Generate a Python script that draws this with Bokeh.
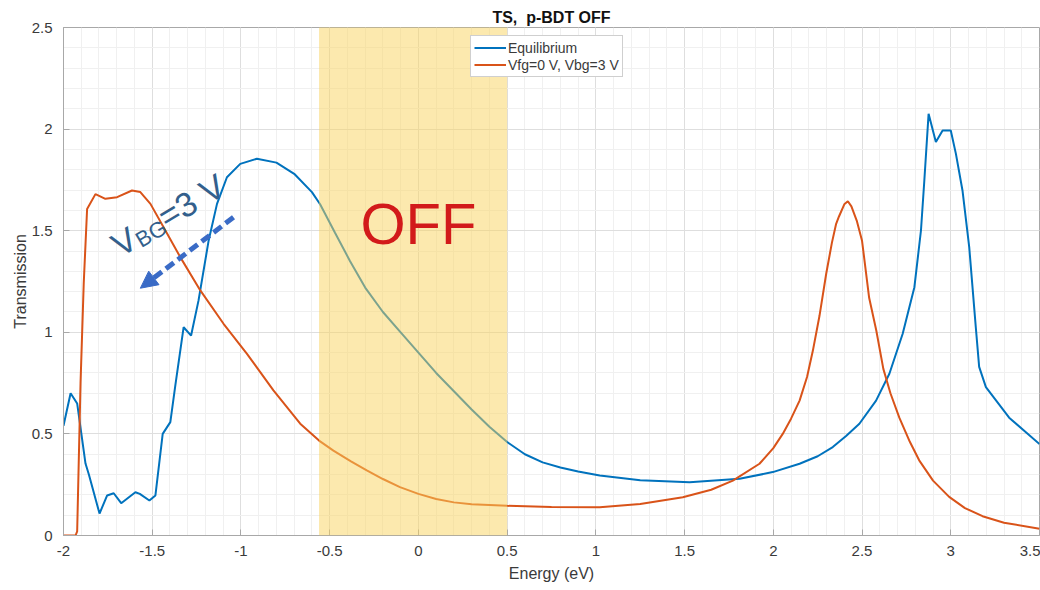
import numpy as np
from bokeh.plotting import figure
from bokeh.embed import file_html
from bokeh.resources import INLINE
from bokeh.models import (BoxAnnotation, Label, Arrow, NormalHead, FixedTicker,
                          CustomJSTickFormatter, Legend, LegendItem, Range1d)

# ---------------- data ----------------
eq_energy = [-2.0, -1.96, -1.923, -1.876, -1.857, -1.797, -1.754, -1.717, -1.675, -1.595,
             -1.57, -1.516, -1.482, -1.441, -1.398, -1.37, -1.323, -1.281, -1.239, -1.182,
             -1.135, -1.079, -1.004, -0.91, -0.8, -0.7, -0.6, -0.554, -0.47, -0.385,
             -0.3, -0.2, -0.1, 0.0, 0.1, 0.2, 0.3, 0.4, 0.5, 0.6, 0.7, 0.8, 0.9,
             1.022, 1.25, 1.528, 1.81, 1.997, 2.148, 2.25, 2.335, 2.41, 2.485, 2.579,
             2.654, 2.729, 2.795, 2.832, 2.851, 2.875, 2.916, 2.954, 3.0,
             3.029, 3.066, 3.104, 3.141, 3.16, 3.198, 3.329, 3.5]
eq_trans = [0.54, 0.70, 0.65, 0.354, 0.30, 0.108, 0.197, 0.208, 0.159, 0.213,
            0.205, 0.172, 0.197, 0.50, 0.558, 0.738, 1.025, 0.984, 1.157, 1.452,
            1.632, 1.763, 1.829, 1.854, 1.835, 1.78, 1.69, 1.63, 1.49, 1.35,
            1.22, 1.10, 1.0, 0.90, 0.80, 0.71, 0.62, 0.535, 0.46, 0.40, 0.36, 0.335, 0.315,
            0.295, 0.272, 0.262, 0.279, 0.312, 0.353, 0.39, 0.435, 0.49, 0.55, 0.664,
            0.796, 0.993, 1.222, 1.501, 1.747, 2.075, 1.936, 1.993, 1.993,
            1.878, 1.698, 1.419, 1.025, 0.83, 0.73, 0.58, 0.45]

bg_energy = [-2.0, -1.932, -1.923, -1.904, -1.886, -1.867, -1.82, -1.764, -1.698, -1.614,
             -1.567, -1.51, -1.436, -1.342, -1.229, -1.098, -0.966, -0.817, -0.666, -0.56,
             -0.479, -0.38, -0.291, -0.2, -0.104, 0.0, 0.1, 0.2, 0.3, 0.5, 0.75, 1.022,
             1.25, 1.49, 1.65, 1.772, 1.922, 2.0, 2.053, 2.1, 2.148, 2.19, 2.223, 2.26,
             2.298, 2.33, 2.354, 2.37, 2.4, 2.42, 2.44, 2.47, 2.5, 2.54, 2.58, 2.62,
             2.66, 2.71, 2.77, 2.822, 2.9, 2.991, 3.08, 3.179, 3.3, 3.5]
bg_trans = [0.0, 0.0, 0.02, 0.75, 1.24, 1.607, 1.68, 1.657, 1.665, 1.698,
            1.69, 1.632, 1.517, 1.37, 1.206, 1.042, 0.894, 0.714, 0.55, 0.467,
            0.418, 0.365, 0.32, 0.278, 0.238, 0.205, 0.18, 0.163, 0.154, 0.146, 0.14, 0.139,
            0.155, 0.188, 0.225, 0.27, 0.353, 0.43, 0.50, 0.575, 0.664, 0.78, 0.91, 1.08,
            1.288, 1.44, 1.534, 1.57, 1.63, 1.645, 1.62, 1.55, 1.45, 1.17, 1.01, 0.82,
            0.70, 0.58, 0.46, 0.37, 0.27, 0.19, 0.135, 0.095, 0.063, 0.033]

series_labels = ["Equilibrium", "Vfg=0 V, Vbg=3 V"]
off_window = [-0.56, 0.5]
x_ticks = [-2, -1.5, -1, -0.5, 0, 0.5, 1, 1.5, 2, 2.5, 3, 3.5]
y_ticks = [0, 0.5, 1, 1.5, 2, 2.5]

# ---------------- styling ----------------
FONT = "Liberation Sans"
BLUE = "#0072BD"
ORANGE = "#D95319"
AX = "#a8a8a8"
TXT = "#3a3a3a"

x_minor = [round(-2 + 0.1 * i, 1) for i in range(56)]
y_minor = [round(0.1 * i, 1) for i in range(26)]

p = figure(width=1040, height=590, x_range=Range1d(-2, 3.5), y_range=Range1d(0, 2.5),
           output_backend="svg", toolbar_location=None,
           min_border_left=63, min_border_right=1, min_border_top=27, min_border_bottom=55)
p.background_fill_color = "white"
p.border_fill_color = "white"
p.outline_line_color = AX

p.title.text = "TS,\u00a0 p-BDT OFF"
p.title.align = "center"
p.title.text_font = FONT
p.title.text_font_size = "16px"
p.title.text_font_style = "bold"
p.title.text_color = "#111111"
p.title.standoff = 3

fmt = CustomJSTickFormatter(code="return String(Math.round(tick*10)/10);")
p.xaxis.ticker = FixedTicker(ticks=x_ticks, minor_ticks=x_minor)
p.yaxis.ticker = FixedTicker(ticks=y_ticks, minor_ticks=y_minor)
p.xaxis.formatter = fmt
p.yaxis.formatter = fmt
p.xaxis.axis_label = "Energy (eV)"
p.yaxis.axis_label = "Transmission"
for ax in (p.xaxis, p.yaxis):
    ax.axis_line_color = AX
    ax.major_tick_line_color = AX
    ax.major_tick_in = 6
    ax.major_tick_out = 0
    ax.minor_tick_line_color = None
    ax.major_label_text_font = FONT
    ax.major_label_text_font_size = "15px"
    ax.major_label_text_color = TXT
    ax.axis_label_text_font = FONT
    ax.axis_label_text_font_size = "16px"
    ax.axis_label_text_font_style = "normal"
    ax.axis_label_text_color = TXT
p.xaxis.major_label_standoff = 6
p.xaxis.axis_label_standoff = 6
p.yaxis.major_label_standoff = 7
p.yaxis.axis_label_standoff = 0

p.xgrid.ticker = FixedTicker(ticks=x_ticks, minor_ticks=x_minor)
p.ygrid.ticker = FixedTicker(ticks=y_ticks, minor_ticks=y_minor)
p.grid.grid_line_color = "#dedede"
p.grid.minor_grid_line_color = "#f0f0f0"

r_eq = p.line(eq_energy, eq_trans, line_color=BLUE, line_width=2)
r_bg = p.line(bg_energy, bg_trans, line_color=ORANGE, line_width=2)

legend = Legend(items=[LegendItem(label=series_labels[0], renderers=[r_eq]),
                       LegendItem(label=series_labels[1], renderers=[r_bg])],
                location=(407, 458), orientation="vertical",
                padding=3, spacing=0, margin=0, label_height=17, glyph_height=17,
                glyph_width=32, label_standoff=2,
                label_text_font=FONT, label_text_font_size="14px", label_text_color=TXT,
                border_line_color="#a0a0a0", background_fill_color="white",
                background_fill_alpha=1.0, level="annotation")
p.add_layout(legend)

shade = BoxAnnotation(left=off_window[0], right=off_window[1], bottom=0, top=2.535,
                      fill_color="#FAD35E", fill_alpha=0.5, line_color=None, level="overlay")
p.add_layout(shade)

p.add_layout(Label(x=0.0, y=1.535, text="OFF", text_font=FONT, text_font_size="58px",
                   text_color="#D21A1A", text_align="center", text_baseline="alphabetic",
                   level="overlay"))

VCOL = "#335f8c"
p.add_layout(Label(x=-1.713, y=1.417, text="V", angle=31, angle_units="deg",
                   text_font=FONT, text_font_size="34px", text_color=VCOL,
                   text_align="left", text_baseline="alphabetic"))
p.add_layout(Label(x=-1.583, y=1.445, text="BG", angle=31, angle_units="deg",
                   text_font=FONT, text_font_size="22px", text_color=VCOL,
                   text_align="left", text_baseline="alphabetic"))
p.add_layout(Label(x=-1.451, y=1.556, text="=3 V", angle=31, angle_units="deg",
                   text_font=FONT, text_font_size="34px", text_color=VCOL,
                   text_align="left", text_baseline="alphabetic"))

ACOL = "#3a6bc6"
p.add_layout(Arrow(end=NormalHead(size=17, fill_color=ACOL, line_color=ACOL),
                   x_start=-1.042, y_start=1.566, x_end=-1.567, y_end=1.217,
                   line_color=ACOL, line_width=5, line_dash="10 5"))

open("out.html", "w").write(file_html(p, INLINE))
